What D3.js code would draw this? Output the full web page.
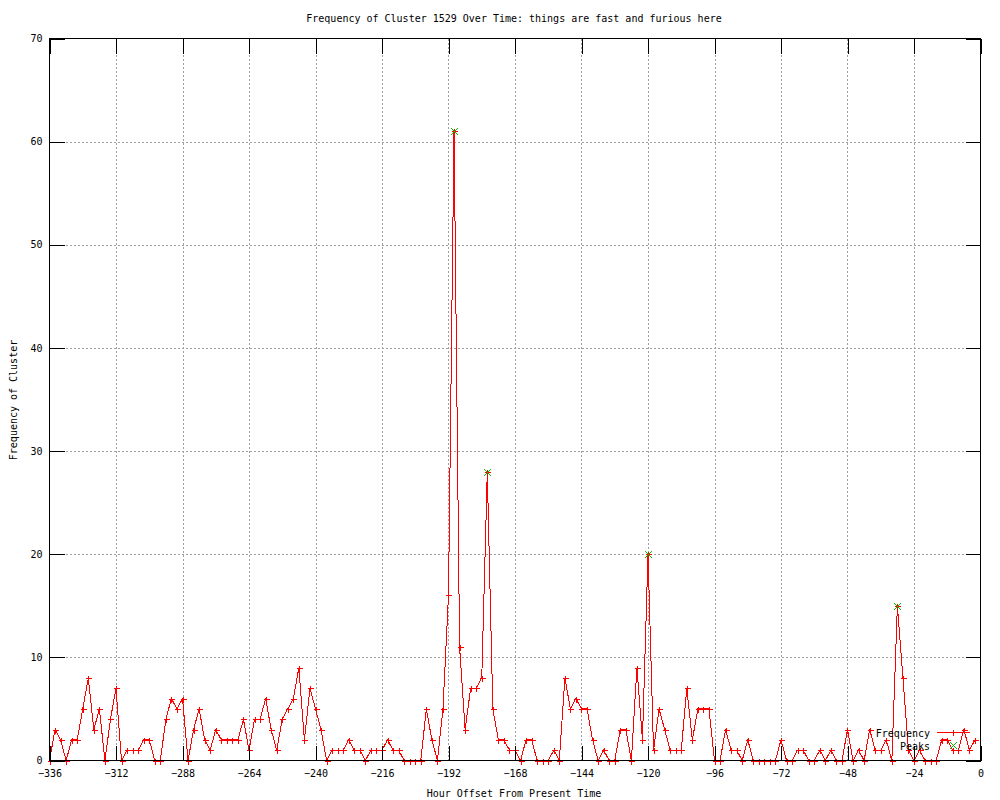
<!DOCTYPE html>
<html>
<head>
<meta charset="utf-8">
<script src="https://cdn.jsdelivr.net/npm/d3@7/dist/d3.min.js"></script>
<style>
  body { margin: 0; background: #fff; }
  text { font-family: "DejaVu Sans Mono", monospace; font-size: 10px; fill: #000; }
</style>
</head>
<body>
<div id="chart"></div>
<script>
// hour offsets (every 2 hours) and the frequency read at each
const hours = [
  -336,-334,-332,-330,-328,-326,-324,-322,-320,-318,-316,-314,-312,-310,-308,-306,-304,-302,-300,-298,
  -296,-294,-292,-290,-288,-286,-284,-282,-280,-278,-276,-274,-272,-270,-268,-266,-264,-262,-260,-258,
  -256,-254,-252,-250,-248,-246,-244,-242,-240,-238,-236,-234,-232,-230,-228,-226,-224,-222,-220,-218,
  -216,-214,-212,-210,-208,-206,-204,-202,-200,-198,-196,-194,-192,-190,-188,-186,-184,-182,-180,-178,
  -176,-174,-172,-170,-168,-166,-164,-162,-160,-158,-156,-154,-152,-150,-148,-146,-144,-142,-140,-138,
  -136,-134,-132,-130,-128,-126,-124,-122,-120,-118,-116,-114,-112,-110,-108,-106,-104,-102,-100,-98,
  -96,-94,-92,-90,-88,-86,-84,-82,-80,-78,-76,-74,-72,-70,-68,-66,-64,-62,-60,-58,
  -56,-54,-52,-50,-48,-46,-44,-42,-40,-38,-36,-34,-32,-30,-28,-26,-24,-22,-20,-18,
  -16,-14,-12,-10,-8,-6,-4,-2
];
const frequency = [
  0,3,2,0,2,2,5,8,3,5,0,4,7,0,1,1,1,2,2,0,
  0,4,6,5,6,0,3,5,2,1,3,2,2,2,2,4,1,4,4,6,
  3,1,4,5,6,9,2,7,5,3,0,1,1,1,2,1,1,0,1,1,
  1,2,1,1,0,0,0,0,5,2,0,5,16,61,11,3,7,7,8,28,
  5,2,2,1,1,0,2,2,0,0,0,1,0,8,5,6,5,5,2,0,
  1,0,0,3,3,0,9,2,20,1,5,3,1,1,1,7,2,5,5,5,
  0,0,3,1,1,0,2,0,0,0,0,0,2,0,0,1,1,0,0,1,
  0,1,0,0,3,0,1,0,3,1,1,2,0,15,8,1,0,1,0,0,
  0,2,2,1,1,3,1,2
];
const peakHours = [-190, -178, -120, -30];
const peakValues = [61, 28, 20, 15];

const xTicks = [-336,-312,-288,-264,-240,-216,-192,-168,-144,-120,-96,-72,-48,-24,0];
const yTicks = [0,10,20,30,40,50,60,70];

const width = 1000, height = 800;
const plotLeft = 49.5, plotRight = 980.5, plotTop = 38.5, plotBottom = 760.5;
const tickLen = 15;

const svg = d3.select("#chart").append("svg")
    .attr("width", width)
    .attr("height", height);

const x = d3.scaleLinear().domain([-336, 0]).range([plotLeft, plotRight]);
const y = d3.scaleLinear().domain([0, 70]).range([plotBottom, plotTop]);

// grid
const grid = svg.append("g")
    .style("stroke", "#a0a0a0")
    .style("stroke-dasharray", "2,2")
    .style("shape-rendering", "crispEdges");
grid.selectAll("line.gx")
    .data(xTicks.slice(1, -1))
    .enter().append("line")
    .attr("x1", d => Math.round(x(d)) + 0.5).attr("x2", d => Math.round(x(d)) + 0.5)
    .attr("y1", plotTop).attr("y2", plotBottom);
grid.selectAll("line.gy")
    .data(yTicks.slice(1, -1))
    .enter().append("line")
    .attr("y1", d => Math.round(y(d)) + 0.5).attr("y2", d => Math.round(y(d)) + 0.5)
    .attr("x1", plotLeft).attr("x2", plotRight);

// data
const points = hours.map((h, i) => ({ h: h, v: frequency[i] }));
const peaks = peakHours.map((h, i) => ({ h: h, v: peakValues[i] }));

const line = d3.line().x(d => x(d.h)).y(d => y(d.v));

svg.append("path")
    .datum(points)
    .attr("d", line)
    .attr("fill", "none")
    .attr("stroke", "#ff0000")
    .attr("stroke-width", 1)
    .style("shape-rendering", "crispEdges");

const plus = "M-3,0H3M0,-3V3";
const cross = "M-3.5,-3.5L3.5,3.5M-3.5,3.5L3.5,-3.5";

svg.append("g").selectAll("path")
    .data(points)
    .enter().append("path")
    .attr("transform", d => `translate(${Math.round(x(d.h)) + 0.5},${Math.round(y(d.v)) + 0.5})`)
    .attr("d", plus)
    .attr("stroke", "#ff0000")
    .attr("fill", "none")
    .style("shape-rendering", "crispEdges");

svg.append("g").selectAll("path")
    .data(peaks)
    .enter().append("path")
    .attr("transform", d => `translate(${Math.round(x(d.h)) + 0.5},${Math.round(y(d.v)) + 0.5})`)
    .attr("d", cross)
    .attr("stroke", "#00c000")
    .attr("fill", "none")
    .style("shape-rendering", "crispEdges");

// axes with inward ticks
function styleAxis(g) {
    g.select(".domain").remove();
    g.selectAll(".tick line").attr("stroke", "#000").style("shape-rendering", "crispEdges");
    g.selectAll("text").style("font-family", '"DejaVu Sans Mono", monospace').style("font-size", "10px").attr("fill", "#000");
}

svg.append("g")
    .attr("transform", `translate(0,${plotBottom})`)
    .call(d3.axisBottom(x).tickValues(xTicks).tickSizeInner(-tickLen).tickSizeOuter(0).tickPadding(9))
    .call(styleAxis);
svg.append("g")
    .attr("transform", `translate(0,${plotTop})`)
    .call(d3.axisTop(x).tickValues(xTicks).tickSizeInner(-tickLen).tickSizeOuter(0).tickFormat(""))
    .call(styleAxis);
svg.append("g")
    .attr("transform", `translate(${plotLeft},0)`)
    .call(d3.axisLeft(y).tickValues(yTicks).tickSizeInner(-tickLen).tickSizeOuter(0).tickPadding(7))
    .call(styleAxis);
svg.append("g")
    .attr("transform", `translate(${plotRight},0)`)
    .call(d3.axisRight(y).tickValues(yTicks).tickSizeInner(-tickLen).tickSizeOuter(0).tickFormat(""))
    .call(styleAxis);

// border
svg.append("rect")
    .attr("x", plotLeft).attr("y", plotTop)
    .attr("width", plotRight - plotLeft).attr("height", plotBottom - plotTop)
    .attr("fill", "none").attr("stroke", "#000")
    .style("shape-rendering", "crispEdges");

// legend
const legend = svg.append("g");
legend.append("text").attr("x", 930).attr("y", 736.5).attr("text-anchor", "end").text("Frequency");
legend.append("line")
    .attr("x1", 937).attr("x2", 970).attr("y1", 732.5).attr("y2", 732.5)
    .attr("stroke", "#ff0000").style("shape-rendering", "crispEdges");
legend.append("path").attr("transform", "translate(953.5,732.5)").attr("d", plus)
    .attr("stroke", "#ff0000").attr("fill", "none").style("shape-rendering", "crispEdges");
legend.append("text").attr("x", 930).attr("y", 749.5).attr("text-anchor", "end").text("Peaks");
legend.append("path").attr("transform", "translate(953.5,745.5)").attr("d", cross)
    .attr("stroke", "#00c000").attr("fill", "none").style("shape-rendering", "crispEdges");

// titles
svg.append("text").attr("x", 514).attr("y", 22).attr("text-anchor", "middle")
    .text("Frequency of Cluster 1529 Over Time: things are fast and furious here");
svg.append("text").attr("x", 514).attr("y", 797).attr("text-anchor", "middle")
    .text("Hour Offset From Present Time");
svg.append("text")
    .attr("transform", "translate(17,400) rotate(-90)")
    .attr("text-anchor", "middle")
    .text("Frequency of Cluster");
</script>
</body>
</html>
